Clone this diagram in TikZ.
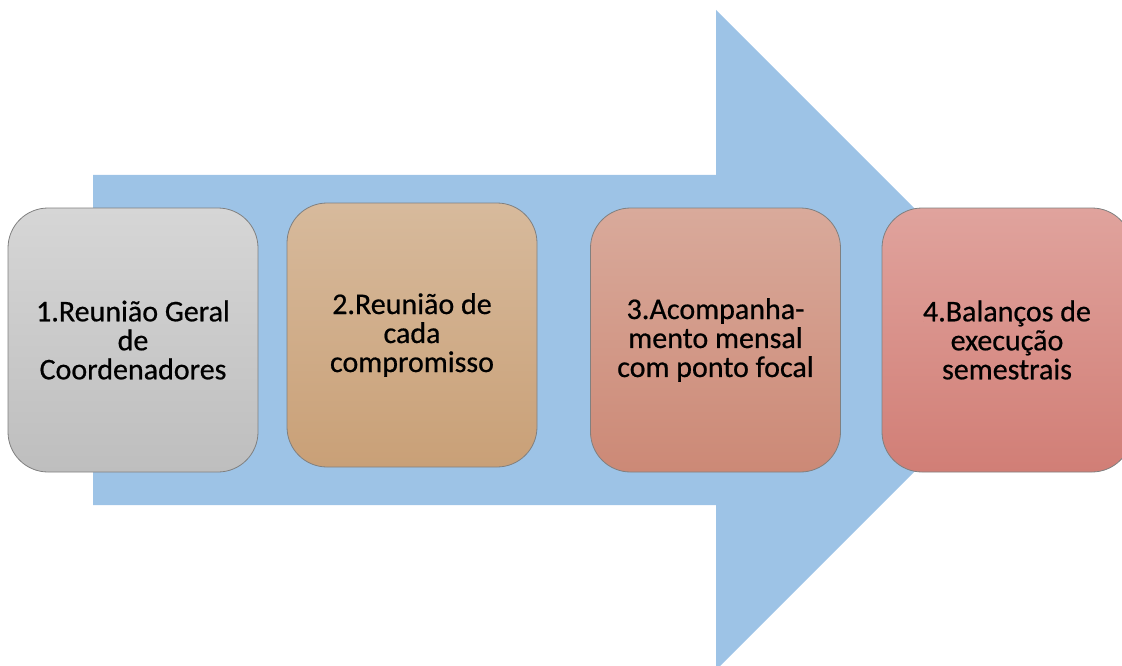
\documentclass[tikz,border=0pt]{standalone}
\usepackage{fontspec}
\setmainfont{Carlito}[FakeBold=0.6]
\definecolor{arrowblue}{HTML}{9DC3E6}
\definecolor{aT}{HTML}{D6D6D6}\definecolor{aB}{HTML}{BEBEBE}
\definecolor{bT}{HTML}{D7BA9C}\definecolor{bB}{HTML}{C9A077}
\definecolor{cT}{HTML}{D9AA9B}\definecolor{cB}{HTML}{CC8976}
\definecolor{dT}{HTML}{E0A39D}\definecolor{dB}{HTML}{D17E76}
\begin{document}
\begin{tikzpicture}[x=1pt,y=-1pt,
  stepbox/.style={rounded corners=40pt, draw=black!50, line width=0.8pt,
    minimum width=250pt, minimum height=264pt, align=center, inner sep=0pt,
    font=\fontsize{30}{29}\selectfont, text=black}]
\useasboundingbox (0,0) rectangle (1122,666);
\clip (0,0) rectangle (1122,666);
\fill[arrowblue] (93,175) -- (716,175) -- (716,10) -- (1046,340) -- (716,670) -- (716,505) -- (93,505) -- cycle;
\node[stepbox, top color=aT, bottom color=aB] (s1) at (133,340) {1.Reunião Geral\\de\\Coordenadores};
\node[stepbox, top color=bT, bottom color=bB] (s2) at (412,335) {2.Reunião de\\cada\\compromisso};
\node[stepbox, top color=cT, bottom color=cB] (s3) at (715.5,340) {3.Acompanha-\\mento mensal\\com ponto focal};
\node[stepbox, top color=dT, bottom color=dB] (s4) at (1007,340) {4.Balanços de\\execução\\semestrais};
\end{tikzpicture}
\end{document}
